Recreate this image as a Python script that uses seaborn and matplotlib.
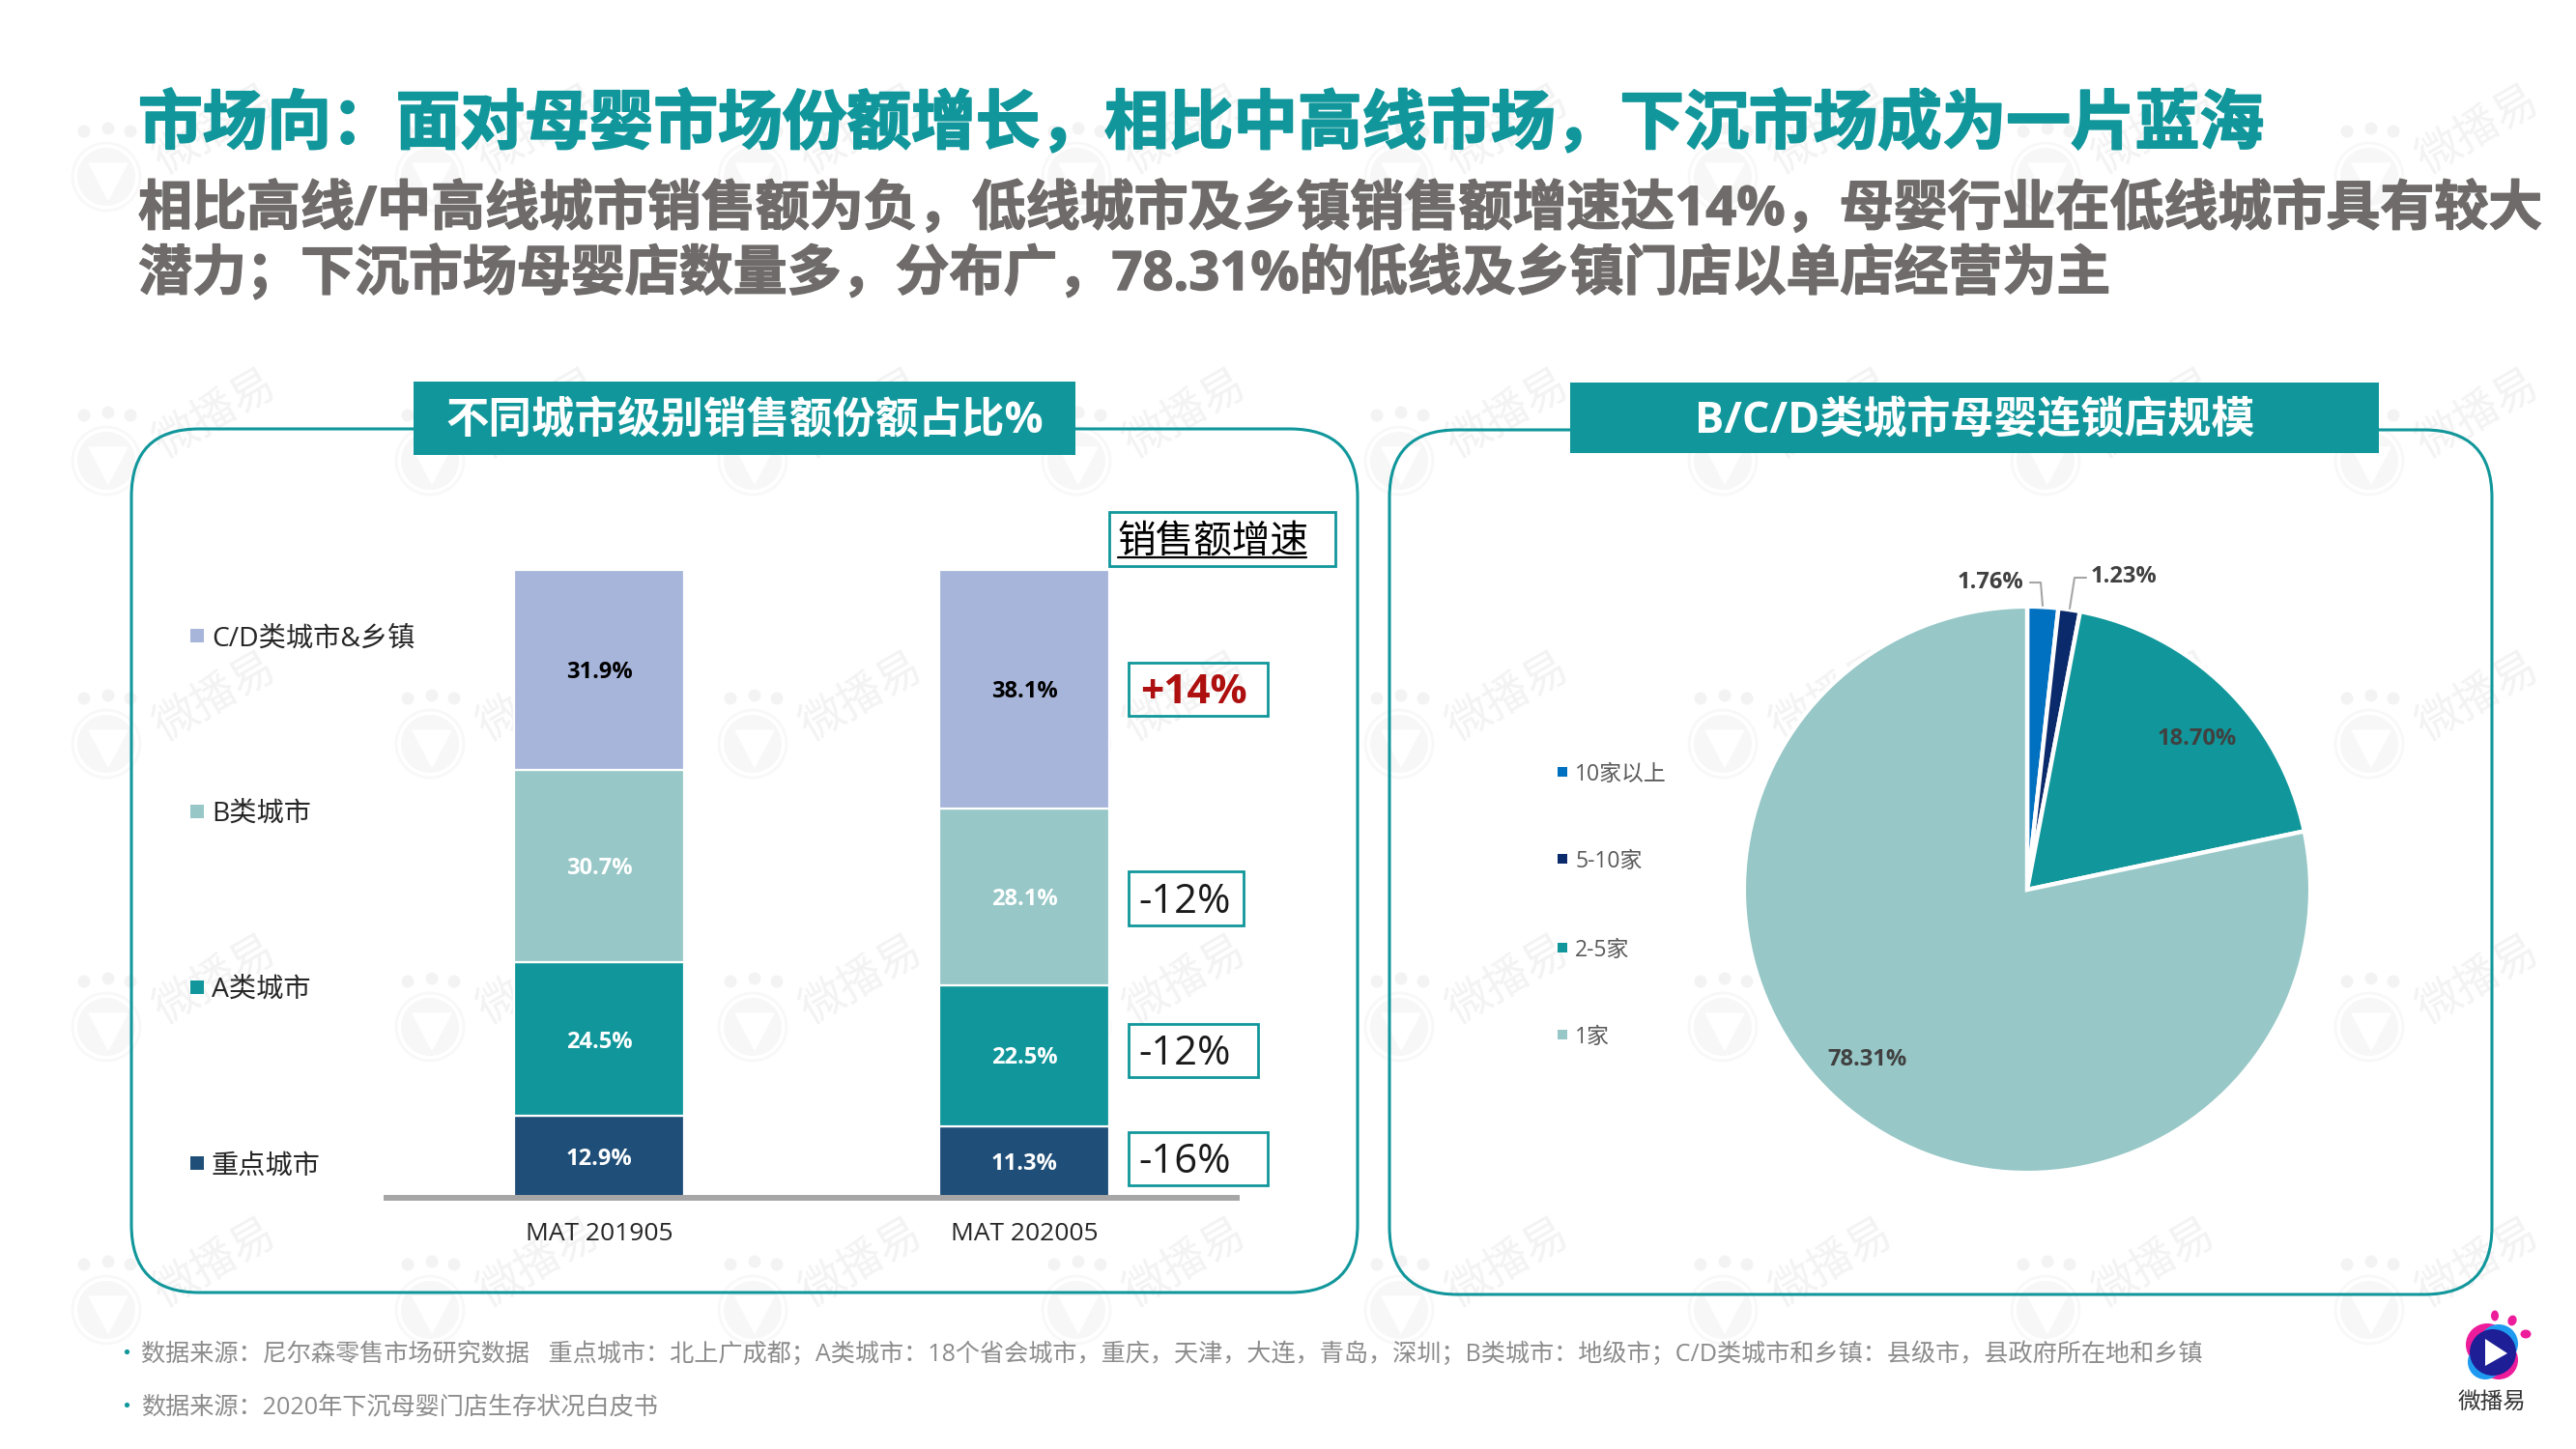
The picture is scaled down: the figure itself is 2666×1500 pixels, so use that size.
import numpy as np
import pandas as pd
import matplotlib
matplotlib.use('Agg')
import matplotlib.pyplot as plt
import matplotlib.patheffects as pe
import seaborn as sns
from matplotlib.patches import Rectangle, FancyBboxPatch, Circle, Ellipse, Polygon

# -------------- DATA ---------------------------------------

periods = ['MAT 201905', 'MAT 202005']
city_tiers = ['重点城市', 'A类城市', 'B类城市', 'C/D类城市&乡镇']
share_201905 = [12.9, 24.5, 30.7, 31.9]
share_202005 = [11.3, 22.5, 28.1, 38.1]
growth_labels = ['-16%', '-12%', '-12%', '+14%']

chain_sizes = ['10家以上', '5-10家', '2-5家', '1家']
chain_share = [1.76, 1.23, 18.70, 78.31]
chain_labels = ['1.76%', '1.23%', '18.70%', '78.31%']

# full width punctuation, as in the slide
COLON = '\uff1a'
COMMA = '\uff0c'
SEMI = '\uff1b'

title = '市场向' + COLON + '面对母婴市场份额增长' + COMMA + '相比中高线市场' + COMMA + '下沉市场成为一片蓝海'
subtitle_1 = ('相比高线/中高线城市销售额为负' + COMMA + '低线城市及乡镇销售额增速达14%' + COMMA
              + '母婴行业在低线城市具有较大')
subtitle_2 = ('潜力' + SEMI + '下沉市场母婴店数量多' + COMMA + '分布广' + COMMA
              + '78.31%的低线及乡镇门店以单店经营为主')
header_left = '不同城市级别销售额份额占比%'
header_right = 'B/C/D类城市母婴连锁店规模'
note_1 = ('数据来源' + COLON + '尼尔森零售市场研究数据   重点城市' + COLON + '北上广成都' + SEMI
          + 'A类城市' + COLON + '18个省会城市' + COMMA + '重庆' + COMMA + '天津' + COMMA + '大连' + COMMA
          + '青岛' + COMMA + '深圳' + SEMI + 'B类城市' + COLON + '地级市' + SEMI
          + 'C/D类城市和乡镇' + COLON + '县级市' + COMMA + '县政府所在地和乡镇')
note_2 = '数据来源' + COLON + '2020年下沉母婴门店生存状况白皮书'

# -------------- COLORS ---------------------------------------

TEAL = '#11979B'
LIGHT_TEAL = '#97C7C7'
PERIWINKLE = '#A7B5DA'
NAVY = '#1F4E79'
BLUE = '#0070C0'
DARK_NAVY = '#0B2A6B'
GRAY = '#6F6B6B'
WATERMARK = '#F7F7F7'

tier_colors = [NAVY, TEAL, LIGHT_TEAL, PERIWINKLE]
tier_label_colors = ['white', 'white', 'white', 'black']
pie_colors = [BLUE, DARK_NAVY, TEAL, LIGHT_TEAL]

# -------------- SETUP ----------------------------------------

W, H = 2666, 1500
sns.set_theme(style='white')
plt.rcParams['font.family'] = ['Open Sans', 'Noto Sans CJK SC', 'DejaVu Sans']
plt.rcParams['axes.unicode_minus'] = False

fig = plt.figure(figsize=(W / 100, H / 100), dpi=100, facecolor='white')


def pixel_axes(x0, y0, x1, y1, zorder):
    ax = fig.add_axes([x0 / W, 1 - y1 / H, (x1 - x0) / W, (y1 - y0) / H], zorder=zorder)
    ax.patch.set_alpha(0)
    return ax


# background layer and text layer, both in picture pixels
back = pixel_axes(0, 0, W, H, 0)
back.set_xlim(0, W)
back.set_ylim(H, 0)
back.axis('off')
front = pixel_axes(0, 0, W, H, 5)
front.set_xlim(0, W)
front.set_ylim(H, 0)
front.axis('off')


def draw_watermark(x, y):
    for dx, dy in [(-23, -47), (2, -50), (25, -47)]:
        back.add_patch(Circle((x + dx, y + dy), 6.5, color='#F3F3F3', lw=0, zorder=0.2))
    back.add_patch(Circle((x, y), 35, fc='none', ec='#F8F8F8', lw=2, zorder=0.2))
    back.add_patch(Circle((x, y), 30, color=WATERMARK, lw=0, zorder=0.2))
    back.add_patch(Polygon([(x - 18, y - 14), (x + 22, y - 14), (x + 2, y + 24)], closed=True,
                           fc='white', ec='white', lw=1, zorder=0.3))
    back.text(x + 113, y - 47, '微播易', fontsize=33, color='#F3F3F3', rotation=30,
              ha='center', va='center', zorder=0.3)


for wy in [183, 477, 770, 1063, 1356]:
    for wx in [110, 445, 779, 1114, 1448, 1783, 2117, 2452]:
        draw_watermark(wx, wy)

# -------------- HEADINGS ---------------------------------------

# the slide's headings are a little heavier than the bold face
front.text(143, 131, title, fontsize=48, fontweight='bold', color=TEAL, va='center',
           path_effects=[pe.withStroke(linewidth=1.4, foreground=TEAL)])
for line, y in [(subtitle_1, 218), (subtitle_2, 284)]:
    front.text(143, y, line, fontsize=40.3, fontweight='bold', color=GRAY, va='center',
               path_effects=[pe.withStroke(linewidth=1.0, foreground=GRAY)])

# panels and their title strips
for x0, x1, y0, y1 in [(136, 1405, 444, 1338), (1438, 2579, 445, 1340)]:
    back.add_patch(FancyBboxPatch((x0 + 70, y0 + 70), x1 - x0 - 140, y1 - y0 - 140,
                                  boxstyle='round,pad=70', fc='none', ec=TEAL, lw=2.2, zorder=1))
for x0, x1, y0, y1, label, size in [(428, 1113, 395, 471, header_left, 32),
                                    (1625, 2462, 396, 469, header_right, 32.4)]:
    back.add_patch(Rectangle((x0, y0), x1 - x0, y1 - y0, fc=TEAL, ec='none', zorder=2))
    front.text((x0 + x1) / 2, (y0 + y1) / 2 + 4, label, fontsize=size, fontweight='bold', color='white',
               ha='center', va='center')

# -------------- STACKED BARS ---------------------------------------

axB = pixel_axes(400, 590, 1280, 1239, 2)
tiers_df = pd.DataFrame({'MAT': periods * 4,
                         'tier': np.repeat(city_tiers, 2),
                         'share': [v for pair in zip(share_201905, share_202005) for v in pair]})

bottom = np.zeros(2)
for tier, color, label_color in zip(city_tiers, tier_colors, tier_label_colors):
    values = tiers_df.loc[tiers_df['tier'] == tier, 'share'].values
    sns.barplot(data=tiers_df[tiers_df['tier'] == tier], x='MAT', y='share', bottom=bottom, color=color,
                saturation=1, width=0.4, edgecolor='white', linewidth=1.6, ax=axB)
    bar_texts = axB.bar_label(axB.containers[-1], labels=[str(v) + '%' for v in values], label_type='center',
                              color=label_color, fontsize=17, fontweight='bold')
    for t in bar_texts:
        t.xyann = (0, -2)
    bottom = bottom + values

axB.set_ylim(0, 100)
axB.set_xlim(-0.5, 1.5)
axB.set_xlabel('')
axB.set_ylabel('')
axB.set_yticks([])
axB.tick_params(axis='x', length=0, pad=18, labelsize=19, labelcolor='#262626')
sns.despine(ax=axB, left=True)
axB.spines['bottom'].set_color('#A6A6A6')
axB.spines['bottom'].set_linewidth(4.3)
axB.spines['bottom'].set_position(('outward', 1))

# legend of the bars
for tier, color, y in zip(city_tiers, tier_colors, [1204, 1022, 840, 658]):
    back.add_patch(Rectangle((197, y - 7), 14, 14, fc=color, ec='none', zorder=2))
    front.text(219, y + 4, tier, fontsize=20.3, color='#262626', va='center')

# growth boxes
for label, x1, y0, y1 in zip(growth_labels, [1312, 1302, 1287, 1312],
                             [1172, 1060, 902, 686], [1227, 1115, 958, 741]):
    back.add_patch(Rectangle((1168, y0), x1 - 1168, y1 - y0, fc='none', ec=TEAL, lw=2, zorder=2))
    if label.startswith('+'):
        front.text(1180, (y0 + y1) / 2 + 4, label, fontsize=30.5, fontweight='bold', color='#AE0F0F', va='center')
    else:
        front.text(1178, (y0 + y1) / 2 + 4, label, fontsize=30, color='#1A1A1A', va='center')

back.add_patch(Rectangle((1148, 530), 234, 56, fc='white', ec=TEAL, lw=2, zorder=2))
front.text(1256, 561, '销售额增速', fontsize=28.5, style='italic', color='black', ha='center', va='center')
front.plot([1157, 1352], [577, 577], color='black', lw=1.6)

# -------------- PIE ---------------------------------------

axP = pixel_axes(2098 - 365, 921 - 365, 2098 + 365, 921 + 365, 2)
axP.pie(chain_share, colors=pie_colors, startangle=90, counterclock=False, radius=1,
        wedgeprops={'edgecolor': 'white', 'linewidth': 3.2})
axP.set_xlim(-1.245, 1.245)
axP.set_ylim(-1.245, 1.245)

for label, x, y in zip(chain_labels, [2060, 2198, 2274, 1933], [603, 597, 765, 1097]):
    front.text(x, y, label, fontsize=17, fontweight='bold', color='#404040', ha='center', va='center')
front.plot([2101, 2112, 2114], [603, 603, 627], color='#A6A6A6', lw=1.5)
front.plot([2159, 2147, 2142], [598, 598, 630], color='#A6A6A6', lw=1.5)

for size, color, y in zip(chain_sizes, pie_colors, [799, 889, 981, 1071]):
    back.add_patch(Rectangle((1612, y - 5), 10, 10, fc=color, ec='none', zorder=2))
    front.text(1630, y + 3, size, fontsize=16.5, color='#595959', va='center')

# -------------- FOOTER AND LOGO ---------------------------------------

for note, y in [(note_1, 1399), (note_2, 1454)]:
    front.scatter([131], [y], s=14, color=TEAL, lw=0)
    front.text(146, y + 3, note, fontsize=18.1, color='#8C8C8C', va='center')

for x, y, w, h, angle in [(2582, 1362, 8, 11, 0), (2600, 1367, 9, 11, 20), (2614, 1381, 11, 9, 0)]:
    front.add_patch(Ellipse((x, y), w, h, angle=angle, color='#EC1C9B', lw=0))
front.add_patch(Circle((2574, 1392), 22, color='#EC1C9B', lw=0))
front.add_patch(Circle((2586, 1408), 20, color='#EC1C9B', lw=0))
front.add_patch(Circle((2572, 1410), 18, color='#1E9BF0', lw=0))
front.add_patch(Circle((2586, 1391), 20, color='#1E9BF0', lw=0))
front.add_patch(Circle((2580, 1400), 24, color='#1E1E96', lw=0))
front.add_patch(Polygon([(2572, 1386), (2595, 1401), (2572, 1414)], closed=True, color='white', lw=0))
front.text(2579, 1452, '微播易', fontsize=17, color='#333333', ha='center', va='center')

plt.savefig('out.png', dpi=100)
